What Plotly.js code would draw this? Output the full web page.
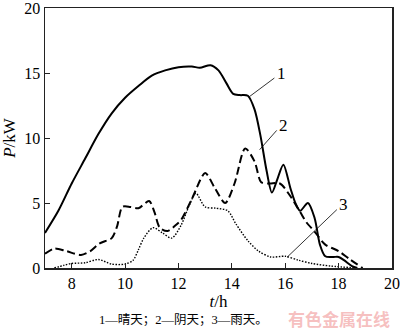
<!DOCTYPE html>
<html>
<head>
<meta charset="utf-8">
<script src="https://cdn.plot.ly/plotly-3.0.1.min.js"></script>
<style>html,body{margin:0;padding:0;background:#fff;}#chart{width:400px;height:333px;}</style>
</head>
<body>
<div id="chart"></div>
<script>
// Series 1: sunny (晴天)
var sunnyT = [7.0, 7.5, 8.0, 8.5, 9.0, 9.5, 10.0, 10.5, 11.0, 11.5, 12.0, 12.5, 12.8, 13.2, 13.5, 13.8, 14.05, 14.3, 14.6, 14.85, 15.07, 15.3, 15.5, 15.7, 15.93, 16.2, 16.4, 16.56, 16.85, 17.1, 17.3, 17.5, 17.8, 18.0, 18.2, 18.5, 18.7];
var sunnyP = [2.7, 4.4, 6.5, 8.4, 10.3, 11.9, 13.1, 14.0, 14.8, 15.2, 15.45, 15.5, 15.4, 15.6, 15.2, 14.2, 13.4, 13.3, 13.25, 12.2, 10.2, 7.5, 5.8, 6.8, 7.95, 6.1, 4.9, 4.4, 5.0, 3.85, 1.8, 0.9, 0.85, 0.85, 0.6, 0.15, 0];
// Series 2: overcast (阴天)
var cloudyT = [7.0, 7.35, 7.8, 8.35, 8.7, 9.05, 9.5, 9.7, 9.9, 10.2, 10.5, 10.9, 11.1, 11.3, 11.6, 11.9, 12.1, 12.5, 13.0, 13.35, 13.75, 14.1, 14.5, 14.85, 15.1, 15.4, 15.8, 16.2, 16.56, 16.8, 17.1, 17.5, 18.0, 18.4, 18.9];
var cloudyP = [1.1, 1.5, 1.3, 1.0, 1.3, 1.9, 2.3, 3.2, 4.7, 4.7, 4.6, 5.15, 4.3, 3.1, 2.85, 3.3, 3.7, 5.3, 7.3, 6.2, 5.0, 6.5, 9.2, 8.2, 6.6, 6.5, 6.5, 5.5, 4.3, 3.5, 2.8, 1.8, 1.3, 0.7, 0];
// Series 3: rainy (雨天)
var rainyT = [7.35, 7.7, 8.0, 8.5, 9.0, 9.5, 10.0, 10.3, 10.5, 10.7, 11.05, 11.4, 11.75, 12.1, 12.4, 12.65, 13.0, 13.4, 13.85, 14.15, 14.6, 15.0, 15.45, 16.0, 16.5, 17.0, 17.7, 18.7];
var rainyP = [0, 0.2, 0.35, 0.4, 0.65, 0.3, 0.3, 0.6, 1.4, 2.3, 3.1, 2.7, 2.3, 3.3, 4.8, 5.75, 4.7, 4.6, 4.4, 3.4, 2.1, 1.3, 0.85, 0.9, 0.6, 0.35, 0.15, 0];

var xTicks = [8, 10, 12, 14, 16, 18, 20];
var yTicks = [0, 5, 10, 15, 20];

// Curve labels: label text, leader start (on curve), label position
var labelText = ['1', '2', '3'];
var leaderFromT = [14.67, 15.04, 16.07];
var leaderFromP = [13.2, 9.1, 0.83];
var labelT = [15.85, 15.93, 18.19];
var labelP = [15.0, 11.0, 4.9];

var serif = '"Liberation Serif", "Times New Roman", serif';
var traces = [
  {x: sunnyT, y: sunnyP, mode: 'lines', line: {color: '#000', width: 2, shape: 'spline', smoothing: 0.8}, name: '1'},
  {x: cloudyT, y: cloudyP, mode: 'lines', line: {color: '#000', width: 2, shape: 'spline', smoothing: 0.8, dash: '8px,4px'}, name: '2'},
  {x: rainyT, y: rainyP, mode: 'lines', line: {color: '#000', width: 1.4, shape: 'spline', smoothing: 0.8, dash: '1.5px,1.5px'}, name: '3'}
];

var annotations = [];
for (var i = 0; i < labelText.length; i++) {
  annotations.push({
    x: leaderFromT[i], y: leaderFromP[i], ax: labelT[i] - 0.2, ay: labelP[i] - 0.3,
    xref: 'x', yref: 'y', axref: 'x', ayref: 'y',
    showarrow: true, arrowhead: 0, arrowwidth: 0.8, arrowcolor: '#000', text: ''
  });
  annotations.push({
    x: labelT[i], y: labelP[i], xref: 'x', yref: 'y', showarrow: false,
    text: labelText[i], font: {family: serif, size: 17, color: '#000'}
  });
}
annotations.push({
  x: 0.15, y: -0.2, xref: 'paper', yref: 'paper', showarrow: false,
  xanchor: 'left', yanchor: 'middle',
  text: '1—晴天；2—阴天；3—雨天。',
  font: {family: '"Liberation Serif", "Noto Sans CJK SC"', size: 12.5, color: '#000'}
});
annotations.push({
  x: 1.0, y: -0.196, xref: 'paper', yref: 'paper', showarrow: false,
  xanchor: 'right', yanchor: 'middle',
  text: '<b>有色金属在线</b>',
  font: {family: '"Noto Sans CJK SC"', size: 17, color: 'rgba(240,150,150,0.6)'}
});

var axisCommon = {
  showgrid: false, zeroline: false, showline: true, mirror: true,
  linecolor: '#222', linewidth: 1.5, ticks: 'inside', ticklen: 5, tickwidth: 1, tickcolor: '#222',
  ticklabeloverflow: 'allow',
  tickfont: {family: serif, size: 16, color: '#000'}
};

var layout = {
  width: 400, height: 333,
  margin: {l: 45, r: 8, t: 8, b: 65},
  paper_bgcolor: '#fff', plot_bgcolor: '#fff',
  showlegend: false,
  xaxis: Object.assign({}, axisCommon, {
    range: [7, 20], tickvals: xTicks, ticktext: xTicks.map(String),
    title: {text: '<i>t</i>/h', font: {family: serif, size: 17, color: '#000'}, standoff: 1}
  }),
  yaxis: Object.assign({}, axisCommon, {
    range: [0, 20], tickvals: yTicks, ticktext: yTicks.map(String),
    title: {text: '<i>P</i>/kW', font: {family: serif, size: 17, color: '#000'}, standoff: 4}
  }),
  annotations: annotations
};

Plotly.newPlot('chart', traces, layout, {displayModeBar: false, staticPlot: true});
</script>
</body>
</html>
